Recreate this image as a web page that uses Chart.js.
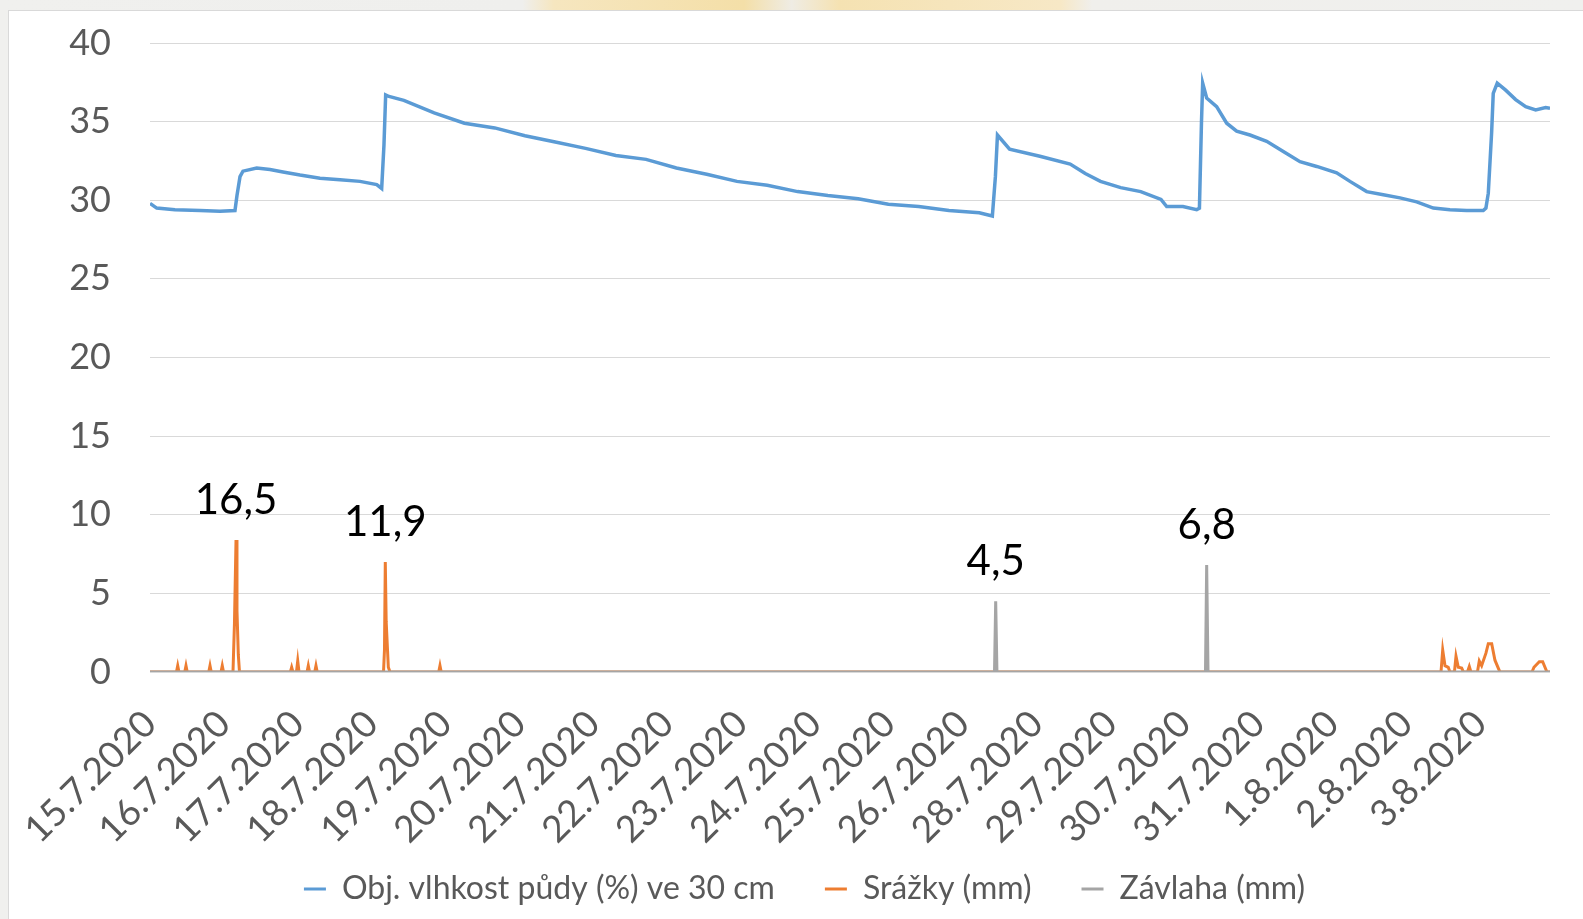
<!DOCTYPE html>
<html lang="cs">
<head>
<meta charset="utf-8">
<title>Vlhkost půdy, srážky a závlaha</title>
<script src="https://cdn.jsdelivr.net/npm/chart.js@4/dist/chart.umd.min.js"></script>
<style>
  html, body { margin: 0; padding: 0; }
  body {
    width: 1583px; height: 919px; overflow: hidden; position: relative;
    background: linear-gradient(90deg, #f0f0ee 0%, #efefed 33%, #f6e6bf 35%, #f4dfa8 47%, #efece4 50%, #f5e2b2 53%, #f7e8c6 67%, #f0efec 69%, #f0f0ee 100%);
  }
  #frame {
    position: absolute; left: 8px; top: 10px; width: 1575px; height: 909px;
    background: #ffffff; border-left: 1px solid #d9d9d9; border-top: 1px solid #d9d9d9;
  }
  #chart { display: block; }
</style>
</head>
<body>
<div id="frame"><canvas id="chart" width="1574" height="908"></canvas></div>
<script>
// Tick labels of the date axis (one per tick interval, positions 0..18)
const dateLabels = ['15.7.2020', '16.7.2020', '17.7.2020', '18.7.2020', '19.7.2020', '20.7.2020',
  '21.7.2020', '22.7.2020', '23.7.2020', '24.7.2020', '25.7.2020', '26.7.2020', '28.7.2020',
  '29.7.2020', '30.7.2020', '31.7.2020', '1.8.2020', '2.8.2020', '3.8.2020'];
const xEnd = 18.945; // last reading, in tick-interval units

// Volumetric soil moisture at 30 cm (%)
const soilX = [0, 0.091, 0.338, 0.677, 0.947, 1.150, 1.177, 1.218, 1.258, 1.444, 1.624, 1.800,
  2.030, 2.300, 2.571, 2.842, 3.068, 3.135, 3.166, 3.189, 3.234, 3.435, 3.845, 4.255, 4.665,
  5.074, 5.484, 5.894, 6.304, 6.713, 7.123, 7.533, 7.943, 8.353, 8.763, 9.173, 9.583, 9.992,
  10.402, 10.812, 11.222, 11.399, 11.440, 11.468, 11.632, 12.042, 12.452, 12.656, 12.862,
  13.135, 13.407, 13.681, 13.758, 13.978, 14.164, 14.201, 14.229, 14.245, 14.299, 14.434,
  14.570, 14.705, 14.885, 15.111, 15.336, 15.562, 15.788, 16.058, 16.238, 16.464, 16.689,
  16.915, 17.141, 17.366, 17.591, 17.817, 18.042, 18.078, 18.110, 18.155, 18.177, 18.231,
  18.345, 18.480, 18.616, 18.751, 18.886, 18.945];
const soilY = [29.8, 29.5, 29.4, 29.35, 29.3, 29.35, 30.3, 31.5, 31.85, 32.05, 31.95, 31.8,
  31.6, 31.4, 31.3, 31.2, 31.0, 30.75, 33.5, 36.7, 36.6, 36.35, 35.55, 34.9, 34.6,
  34.1, 33.7, 33.3, 32.85, 32.6, 32.05, 31.65, 31.2, 30.95, 30.55, 30.3, 30.1, 29.75,
  29.6, 29.35, 29.2, 29.0, 31.5, 34.15, 33.25, 32.8, 32.3, 31.7, 31.2,
  30.8, 30.55, 30.05, 29.6, 29.6, 29.4, 29.5, 35.0, 37.45, 36.5, 35.95,
  34.9, 34.4, 34.15, 33.75, 33.1, 32.45, 32.15, 31.75, 31.2, 30.55, 30.35,
  30.15, 29.9, 29.5, 29.4, 29.35, 29.35, 29.5, 30.45, 34.3, 36.8, 37.45,
  37.0, 36.4, 35.95, 35.75, 35.9, 35.85];

// Precipitation readings (mm)
const rainX = [0, 0.358, 0.375, 0.392, 0.470, 0.487, 0.504, 0.795, 0.812, 0.829, 0.961, 0.978, 0.995,
  1.123, 1.143, 1.164, 1.177, 1.195, 1.211,
  1.900, 1.917, 1.934, 1.982, 1.999, 2.016, 2.125, 2.142, 2.159, 2.229, 2.246, 2.263,
  3.160, 3.173, 3.184, 3.196, 3.225, 3.248,
  3.907, 3.924, 3.941,
  17.470, 17.493, 17.524, 17.568, 17.591,
  17.652, 17.673, 17.704, 17.750, 17.774,
  17.828, 17.853, 17.875,
  17.963, 17.988, 18.020, 18.078, 18.110, 18.156, 18.200, 18.245, 18.268,
  18.701, 18.728, 18.800, 18.846, 18.877, 18.904, 18.945];
const rainY = [0, 0, 0.4, 0, 0, 0.4, 0, 0, 0.4, 0, 0, 0.4, 0,
  0, 3.1, 8.4, 3.9, 1.1, 0,
  0, 0.3, 0, 0, 0.7, 0, 0, 0.4, 0, 0, 0.4, 0,
  0, 1.4, 7.0, 3.2, 0.3, 0,
  0, 0.4, 0,
  0, 1.4, 0.4, 0.3, 0,
  0, 1.0, 0.3, 0.25, 0,
  0, 0.35, 0,
  0, 0.7, 0.4, 1.2, 1.8, 1.8, 0.75, 0.25, 0,
  0, 0.3, 0.65, 0.65, 0.3, 0, 0];

// Irrigation doses (mm)
const irrX = [0, 11.428, 11.444, 11.461, 14.283, 14.299, 14.317, 18.945];
const irrY = [0, 0, 4.5, 0, 0, 6.8, 0, 0];

const seriesNames = ['Obj. vlhkost půdy (%) ve 30 cm', 'Srážky (mm)', 'Závlaha (mm)'];
const seriesColors = ['#5B9BD5', '#ED7D31', '#A5A5A5'];

const toPoints = (xs, ys) => xs.map((x, i) => ({ x, y: ys[i] }));

// Writes the total of every rain / irrigation event above its peak
const eventTotals = {
  id: 'eventTotals',
  afterDatasetsDraw(chart) {
    const { ctx, scales } = chart;
    ctx.save();
    ctx.font = '42px Lato';
    ctx.fillStyle = '#000000';
    ctx.textAlign = 'center';
    ctx.textBaseline = 'alphabetic';
    [1, 2].forEach(di => {
      const pts = chart.data.datasets[di].data;
      let sum = 0, peak = null;
      const flush = () => {
        if (peak && peak.y >= 4) {
          const label = sum.toFixed(1).replace('.', ',');
          ctx.fillText(label, scales.x.getPixelForValue(peak.x), scales.y.getPixelForValue(peak.y) - 26);
        }
        sum = 0; peak = null;
      };
      pts.forEach(p => {
        if (p.y > 0) {
          sum += p.y;
          if (!peak || p.y > peak.y) peak = p;
        } else {
          flush();
        }
      });
      flush();
    });
    ctx.restore();
  }
};

// Lifts the legend row closer to the date labels and nudges it right
const legendPlace = {
  id: 'legendPlace',
  afterLayout(chart) {
    const lg = chart.legend;
    if (lg) { lg.top -= 27; lg.left += 25; lg.right += 25; }
  }
};

function draw() {
  new Chart(document.getElementById('chart'), {
    type: 'line',
    data: {
      datasets: [
        { label: seriesNames[0], data: toPoints(soilX, soilY), order: 3, borderWidth: 3.5 },
        { label: seriesNames[1], data: toPoints(rainX, rainY), order: 2, borderWidth: 3 },
        { label: seriesNames[2], data: toPoints(irrX, irrY), order: 1, borderWidth: 3 }
      ].map((d, i) => Object.assign(d, {
        borderColor: seriesColors[i], backgroundColor: seriesColors[i],
        pointRadius: 0, tension: 0, fill: false
      }))
    },
    options: {
      responsive: false,
      animation: false,
      layout: { padding: { left: 0, right: 33, top: 32, bottom: 0 } },
      scales: {
        x: {
          type: 'linear', min: 0, max: xEnd,
          afterBuildTicks: s => { s.ticks = dateLabels.map((_, i) => ({ value: i })); },
          afterFit: s => { s.height = 178; s.paddingLeft = 0; s.paddingRight = 0; },
          ticks: {
            autoSkip: false, minRotation: 45, maxRotation: 45, padding: 22,
            color: '#595959', font: { family: 'Lato', size: 37 },
            callback: (v, i) => dateLabels[i]
          },
          grid: { display: false },
          border: { display: false }
        },
        y: {
          min: 0, max: 40,
          afterFit: s => { s.width = 141; s.paddingTop = 0; s.paddingBottom = 0; },
          ticks: { stepSize: 5, padding: 39, color: '#595959', font: { family: 'Lato', size: 36 } },
          grid: { color: '#d9d9d9', lineWidth: 1, drawTicks: false },
          border: { display: false }
        }
      },
      plugins: {
        legend: {
          position: 'bottom',
          maxHeight: 69,
          labels: {
            sort: (a, b) => a.datasetIndex - b.datasetIndex,
            boxWidth: 22, boxHeight: 3, padding: 50,
            color: '#595959', font: { family: 'Lato', size: 32 },
            generateLabels: chart => Chart.defaults.plugins.legend.labels.generateLabels(chart)
              .map(item => Object.assign(item, { fillStyle: item.strokeStyle, lineWidth: 0 }))
          }
        },
        tooltip: { enabled: false }
      }
    },
    plugins: [eventTotals, legendPlace]
  });
}

Promise.all([document.fonts.load('37px Lato'), document.fonts.load('42px Lato')])
  .then(draw, draw);
</script>
</body>
</html>
